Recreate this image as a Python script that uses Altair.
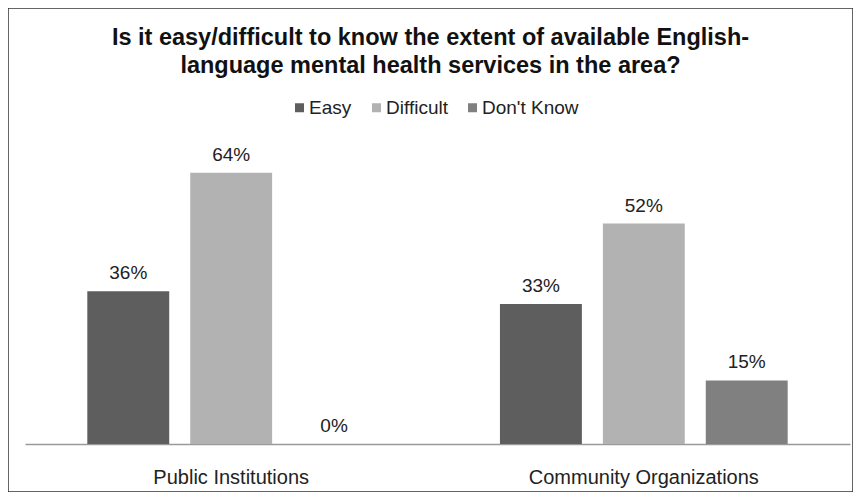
import altair as alt
import pandas as pd

title_lines = [
    "Is it easy/difficult to know the extent of available English-",
    "language mental health services in the area?",
]
categories = ["Public Institutions", "Community Organizations"]
series = ["Easy", "Difficult", "Don't Know"]
easy = [36, 33]
difficult = [64, 52]
dont_know = [0, 15]
colors = ["#5e5e5e", "#b2b2b2", "#808080"]

rows = []
for s, vals in zip(series, [easy, difficult, dont_know]):
    for c, v in zip(categories, vals):
        rows.append({"category": c, "series": s, "value": v, "label": f"{v}%"})
df = pd.DataFrame(rows)

W, H = 845, 484

x = alt.X(
    "category:N",
    sort=categories,
    scale=alt.Scale(range=[17, 842], paddingInner=0.3027, paddingOuter=0.151),
    axis=alt.Axis(
        title=None, labelAngle=0, ticks=False, tickSize=0, grid=False,
        domainColor="#9a9a9a", domainWidth=1.5, labelFontSize=20,
        labelColor="#222222", labelPadding=23, labelLimit=0,
        offset=-(H - 436),
    ),
)
xo = alt.XOffset(
    "series:N", sort=series,
    scale=alt.Scale(domain=series, paddingInner=0.204, paddingOuter=0),
)
y = alt.Y(
    "value:Q",
    scale=alt.Scale(domain=[0, 100], range=[436, 12], zero=True),
    axis=None,
)

base = alt.Chart(df)

bars = base.mark_bar().encode(
    x=x,
    xOffset=xo,
    y=y,
    color=alt.Color(
        "series:N",
        sort=series,
        scale=alt.Scale(domain=series, range=colors),
        legend=alt.Legend(
            title=None, orient="none", legendX=282, legendY=90,
            direction="horizontal", symbolType="square", symbolSize=81,
            symbolStrokeWidth=0, labelFontSize=19, labelColor="#222222",
            labelOffset=0, columnPadding=15, padding=0,
        ),
    ),
)

labels = base.mark_text(
    baseline="alphabetic", dy=-12, fontSize=19, color="#222222"
).encode(
    x=x,
    xOffset=xo,
    y=y,
    text="label:N",
)

chart = (
    alt.layer(bars, labels)
    .properties(
        width=W,
        height=H,
        padding=0,
        title=alt.TitleParams(
            text=title_lines,
            orient="top",
            anchor="middle",
            baseline="top",
            offset=-69,
            fontSize=23.5,
            fontWeight="bold",
            lineHeight=28,
            color="#111111",
        ),
    )
    .configure(font="Liberation Sans")
    .configure_view(stroke="#333333", strokeWidth=1.5)
)

chart.save("out.html", embed_options={"renderer": "svg", "actions": False})
